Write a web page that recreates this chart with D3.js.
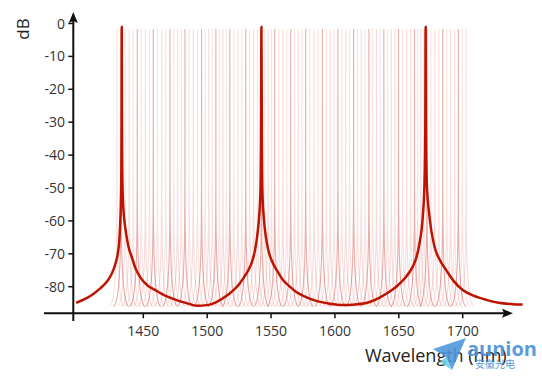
<!DOCTYPE html>
<html>
<head>
<meta charset="utf-8">
<script src="https://cdn.jsdelivr.net/npm/d3@7"></script>
<style>
  html, body { margin: 0; padding: 0; background: #fff; }
  svg { display: block; font-family: "Open Sans", "Noto Sans", sans-serif; }
</style>
</head>
<body>
<svg id="chart" width="542" height="379"></svg>
<script>
// ---- data ----
const xTicks = [1450, 1500, 1550, 1600, 1650, 1700];
const yTicks = [0, -10, -20, -30, -40, -50, -60, -70, -80];

// thick transmission curve (wavelength nm, dB)
const thickWl = [1397.4, 1404.0, 1410.9, 1416.0, 1421.4, 1425.0, 1427.9, 1430.0, 1431.25, 1431.9, 1432.4, 1432.8, 1433.0, 1433.15, 1433.3, 1433.55, 1434.0, 1434.7, 1435.5, 1436.5, 1438.5, 1440.9, 1444.0, 1447.4, 1453.0, 1460.5, 1468.0, 1476.1, 1484.0, 1492.0, 1500.0, 1506.0, 1512.0, 1519.0, 1525.5, 1529.0, 1532.2, 1535.0, 1537.5, 1539.2, 1540.6, 1541.6, 1542.1, 1542.45, 1542.8, 1543.3, 1544.3, 1545.8, 1547.8, 1551.0, 1554.5, 1559.0, 1564.8, 1570.0, 1576.5, 1586.0, 1596.0, 1606.0, 1616.0, 1626.0, 1635.0, 1642.0, 1648.0, 1655.0, 1660.9, 1664.0, 1666.2, 1668.75, 1670.1, 1670.7, 1671.0, 1671.3, 1671.9, 1674.0, 1677.9, 1682.0, 1687.0, 1693.0, 1700.0, 1709.0, 1718.3, 1728.0, 1739.1, 1746.9];
const thickDb = [-84.9, -83.8, -82.2, -80.6, -78.5, -76.3, -73.4, -70.0, -65.8, -61, -55, -45, -30, -1.0, -30, -45, -53, -58, -61, -63.7, -68, -70.9, -74.5, -77.0, -79.5, -81.3, -82.9, -84.1, -85.0, -85.8, -85.6, -84.9, -83.6, -81.6, -79.0, -77.0, -75.0, -72.5, -68.8, -64.5, -59, -52, -35, -1.0, -35, -52, -59, -64.5, -68.8, -72.5, -75.0, -77.8, -80.0, -81.7, -83.0, -84.4, -85.2, -85.6, -85.4, -84.8, -83.3, -81.7, -80.0, -77.3, -73.9, -70.8, -66.8, -58.7, -48.5, -32, -1.0, -32, -48.5, -58.7, -67.8, -71.8, -74.9, -78.3, -81.0, -82.8, -84.0, -84.9, -85.3, -85.4];

// shape of one narrow comb resonance (offset from centre nm, dB)
const combOffset = [-6, -4.75, -3.5, -2.5, -1.5, -0.8, -0.4, -0.15, -0.05, 0, 0.05, 0.15, 0.4, 0.8, 1.5, 2.5, 3.5, 4.75, 6];
const combDb = [-86.0, -85.5, -84.0, -81.7, -77.7, -72.4, -66.4, -57.9, -48.3, -1.7, -48.3, -57.9, -66.4, -72.4, -77.7, -81.7, -84.0, -85.5, -86.0];

// comb resonance centres (nm)
const combMain = [1432.6, 1445.3, 1457.8, 1470.9, 1482.6, 1495.6, 1506.8, 1517.7, 1530.2, 1542.5, 1552.9, 1565.4, 1577.1, 1590.2, 1602.3, 1614.6, 1626.6, 1638.3, 1649.8, 1662.3, 1672.0, 1684.4, 1696.6];
const combFaintA = [1429.4, 1435.8, 1448.4, 1461.1, 1473.8, 1485.9, 1498.4, 1509.5, 1520.8, 1533.3, 1545.1, 1556.0, 1568.3, 1580.4, 1593.2, 1605.4, 1617.6, 1629.5, 1641.2, 1652.9, 1664.7, 1675.1, 1687.5, 1699.7];
const combFaintB = [1439.0, 1451.6, 1464.4, 1476.8, 1489.1, 1501.2, 1512.3, 1524.0, 1536.4, 1547.7, 1559.2, 1571.3, 1583.7, 1596.3, 1608.5, 1620.6, 1632.5, 1644.1, 1656.1, 1667.2, 1678.2, 1690.5, 1702.7];
const combFaintC = [1442.1, 1454.7, 1467.6, 1479.7, 1492.4, 1504.0, 1515.0, 1527.1, 1539.4, 1550.3, 1562.3, 1574.2, 1586.9, 1599.3, 1611.5, 1623.6, 1635.4, 1646.9, 1659.2, 1669.6, 1681.3, 1693.6];

// ---- drawing ----
const svg = d3.select("#chart");
const x = d3.scaleLinear().domain([1450, 1700]).range([143.3, 462.7]);
const y = d3.scaleLinear().domain([0, -80]).range([23.5, 286.7]);

const line = d3.line().x(d => x(d[0])).y(d => y(d[1])).curve(d3.curveMonotoneX);

const combs = [
  { c: combFaintA, op: 0.13 },
  { c: combFaintB, op: 0.16 },
  { c: combFaintC, op: 0.13 },
  { c: combMain, op: 0.38 }
];
const gComb = svg.append("g");
combs.forEach(s => {
  gComb.selectAll(null)
    .data(s.c)
    .enter().append("path")
    .attr("d", c => line(combOffset.map((o, i) => [c + o, combDb[i]])))
    .attr("fill", "none")
    .attr("stroke", "#c8281e")
    .attr("stroke-width", 1.1)
    .attr("stroke-opacity", s.op);
});

svg.append("path")
  .attr("d", line(thickWl.map((w, i) => [w, thickDb[i]])))
  .attr("fill", "none")
  .attr("stroke", "#be1300")
  .attr("stroke-width", 2.5)
  .attr("stroke-linejoin", "round");

// axes
const axisY0 = 313.3;     // pixel row of the wavelength axis
const axisX0 = 73.3;      // pixel column of the dB axis
const gAx = svg.append("g").attr("stroke", "#111").attr("stroke-width", 2);
gAx.append("line").attr("x1", 44).attr("x2", 506).attr("y1", axisY0).attr("y2", axisY0);
gAx.append("line").attr("x1", axisX0).attr("x2", axisX0).attr("y1", 321).attr("y2", 20);
svg.append("path").attr("d", `M513,${axisY0} L502,${axisY0 - 4.5} L504,${axisY0} L502,${axisY0 + 4.5} Z`).attr("fill", "#111");
svg.append("path").attr("d", `M${axisX0},12 L${axisX0 - 4.5},23 L${axisX0},21 L${axisX0 + 4.5},23 Z`).attr("fill", "#111");

// x ticks
const gx = svg.append("g");
gx.selectAll("line").data(xTicks).enter().append("line")
  .attr("x1", d => x(d)).attr("x2", d => x(d))
  .attr("y1", axisY0).attr("y2", axisY0 + 5)
  .attr("stroke", "#111").attr("stroke-width", 1.5);
gx.selectAll("text").data(xTicks).enter().append("text")
  .attr("x", d => x(d)).attr("y", 336)
  .attr("text-anchor", "middle")
  .attr("font-size", 14).attr("fill", "#333")
  .text(d => d);

// y ticks
const gy = svg.append("g");
gy.selectAll("line").data(yTicks).enter().append("line")
  .attr("x1", axisX0 - 5).attr("x2", axisX0)
  .attr("y1", d => y(d)).attr("y2", d => y(d))
  .attr("stroke", "#111").attr("stroke-width", 1.5);
gy.selectAll("text").data(yTicks).enter().append("text")
  .attr("x", 65).attr("y", d => y(d) + 5)
  .attr("text-anchor", "end")
  .attr("font-size", 14).attr("fill", "#333")
  .text(d => d);

// axis titles
svg.append("text")
  .attr("transform", "translate(29,29) rotate(-90)")
  .attr("text-anchor", "middle")
  .attr("font-size", 17).attr("fill", "#222")
  .text("dB");
svg.append("text")
  .attr("x", 365).attr("y", 362)
  .attr("font-size", 18).attr("fill", "#222")
  .text("Wavelength (nm)");

// watermark
const wm = svg.append("g").attr("opacity", 0.9);
wm.append("path").attr("d", "M433,349 L466,338 L452,370 L446,357 Z").attr("fill", "#4f98dc");
wm.append("path").attr("d", "M446,357 L452,370 L440,362 Z").attr("fill", "#6fd0ee");
wm.append("text").attr("x", 467).attr("y", 356)
  .attr("font-size", 20).attr("font-weight", "bold").attr("fill", "#4a90d8")
  .text("aunion");
wm.append("text").attr("x", 475).attr("y", 368)
  .attr("font-size", 10).attr("fill", "#4a90d8")
  .attr("font-family", "Noto Sans CJK SC")
  .text("安徽光电");
</script>
</body>
</html>
